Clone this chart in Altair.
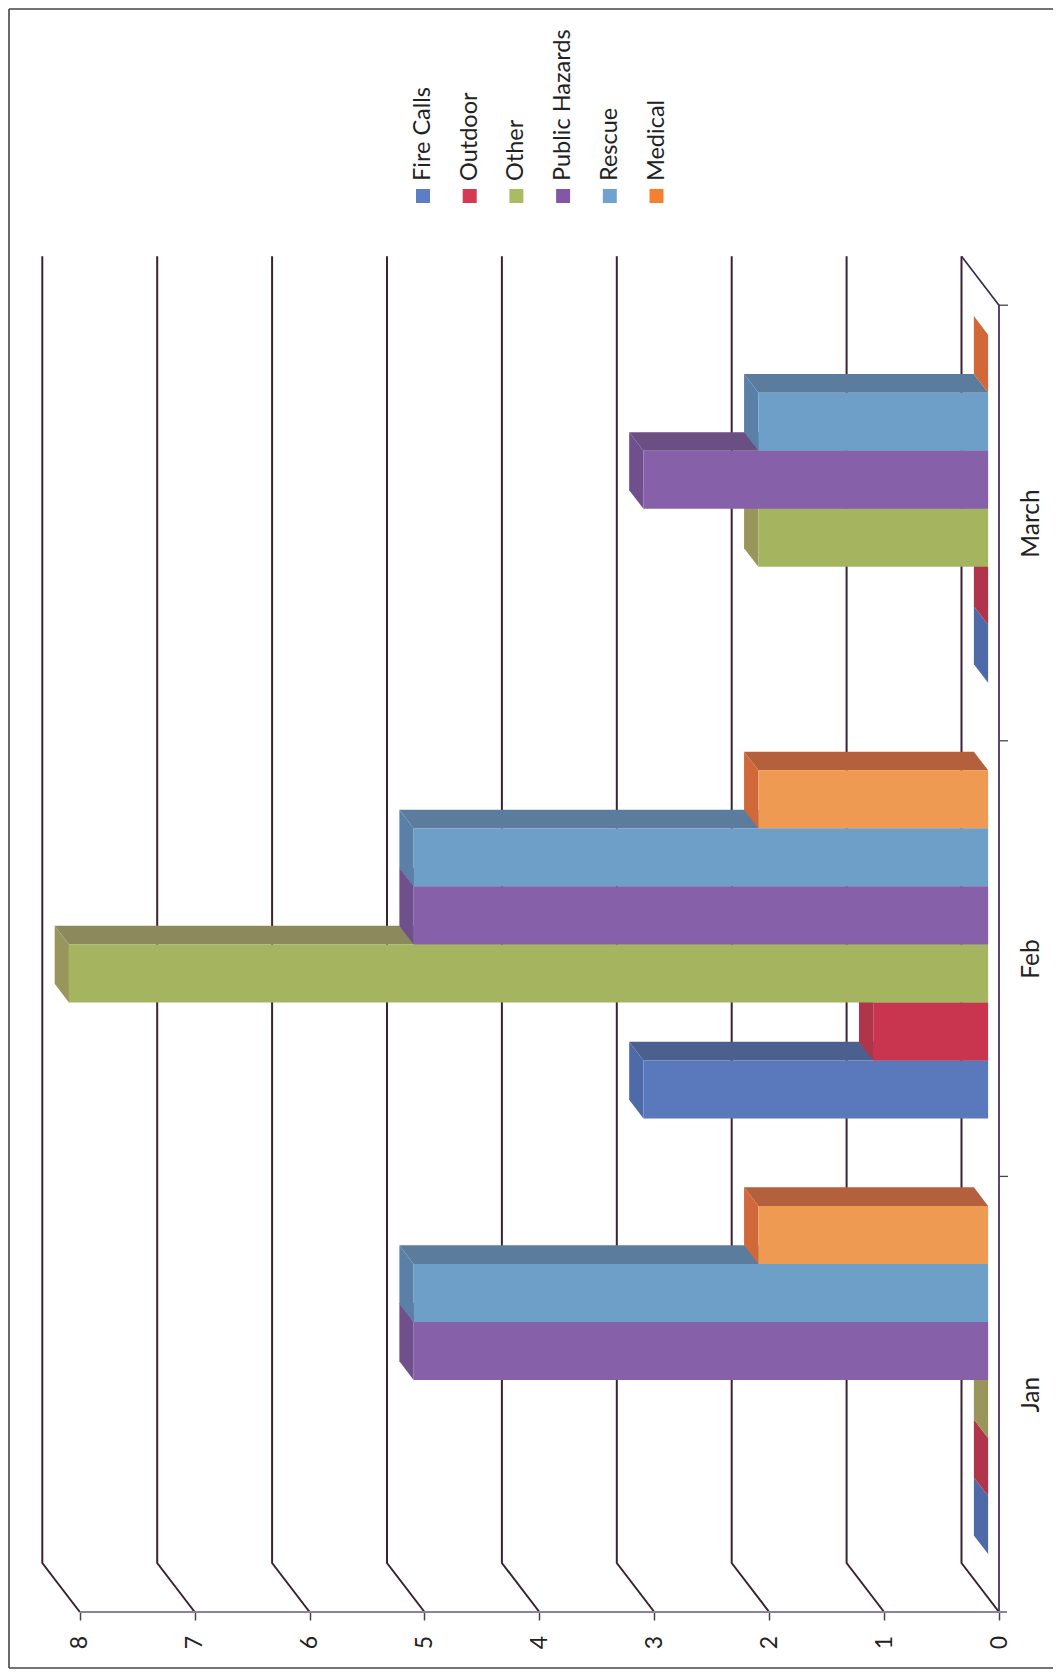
import json
import altair as alt
import pandas as pd

# ---------- values ----------
categories = ["Jan", "Feb", "March"]
series_names = ["Fire Calls", "Outdoor", "Other", "Public Hazards", "Rescue", "Medical"]
fire_calls = [0, 3, 0]
outdoor = [0, 1, 0]
other = [0, 8, 2]
public_hazards = [5, 5, 3]
rescue = [5, 5, 2]
medical = [2, 2, 0]
series_values = [fire_calls, outdoor, other, public_hazards, rescue, medical]
value_ticks = [0, 1, 2, 3, 4, 5, 6, 7, 8]

front_colors = ["#5A78BC", "#C9344F", "#A5B45E", "#8661A9", "#6E9FC8", "#EE9A52"]
top_colors = ["#4C6090", "#A8323F", "#8C8A5C", "#6B4E82", "#5B7C9C", "#B5603C"]
end_colors = ["#4F6AA8", "#B0354A", "#99965C", "#6F4F8C", "#5A80A8", "#D0683A"]
legend_colors = ["#5B7FC4", "#D43A52", "#A9BC62", "#8257A8", "#6FA3CF", "#F48030"]

GRID = "#3B2233"
AXIS = "#8D7F9E"

# ---------- oblique depth: how far one full floor depth moves along each scale ----------
K_V = 0.3264     # value units per unit of depth
K_C = 0.1125     # category units per unit of depth
BAR_NEAR, BAR_FAR = 0.29, 0.67
SLOT = 0.1332
GAP = (1 - 6 * SLOT) / 2


def pv(v, d):
    return v + K_V * d


def pc(c, d):
    return c + K_C * d


# ---------- plot area and scales ----------
W, H = 1044, 1659
ORIGIN_X, ORIGIN_Y = 9, 9
ZERO_X, PX_PER_V = 999.0, 114.9
ZERO_Y, PX_PER_C = 1612.0, 435.6


def x_to_v(px):
    return (ZERO_X - px) / PX_PER_V


def y_to_c(py):
    return (ZERO_Y - py) / PX_PER_C


sx = alt.Scale(domain=[x_to_v(ORIGIN_X), x_to_v(ORIGIN_X + W)], range=[0, W], nice=False, zero=False)
sy = alt.Scale(domain=[y_to_c(ORIGIN_Y + H), y_to_c(ORIGIN_Y)], range=[H, 0], nice=False, zero=False)

x_axis = alt.Axis(
    values=value_ticks, title=None, grid=False, domain=False, offset=-(ORIGIN_Y + H - ZERO_Y),
    tickSize=8, tickColor="#4A4050", tickWidth=1.5, labelAngle=270, labelAlign="center",
    labelBaseline="middle", labelPadding=22, labelFont="Lato", labelFontSize=23, labelColor="#222222",
    format="d", labelOverlap=False, labelFlush=False,
)
y_axis = alt.Axis(
    values=[0.5, 1.5, 2.5], title=None, grid=False, domain=False, ticks=False, orient="right",
    offset=-(ORIGIN_X + W - 1031), labelPadding=0, labelAngle=270, labelAlign="center",
    labelBaseline="middle", labelFont="Lato", labelFontSize=24.5, labelColor="#222222",
    labelExpr=json.dumps(categories) + "[floor(datum.value)]", labelOverlap=False, labelFlush=False,
)
AX_X = dict(scale=sx, axis=x_axis)
AX_Y = dict(scale=sy, axis=y_axis)

layers = []

# ---------- outer frame ----------
for enc in (
    dict(x=alt.value(0), y=alt.value(0), y2=alt.value(H)),
    dict(y=alt.value(0), x=alt.value(0), x2=alt.value(W)),
    dict(y=alt.value(H), x=alt.value(0), x2=alt.value(W)),
):
    layers.append(alt.Chart(pd.DataFrame({"a": [0]})).mark_rule(color="#444444", strokeWidth=1.6).encode(**enc))

# ---------- gridlines ----------
grid_rows = []
for v in value_ticks:
    for o, (c, d) in enumerate([(3, 1), (0, 1), (0, 0)]):
        grid_rows.append({"v": pv(v, d), "c": pc(c, d), "g": f"v{v}", "o": o})
layers.append(
    alt.Chart(pd.DataFrame(grid_rows)).mark_line(color=GRID, strokeWidth=2).encode(
        x=alt.X("v:Q", **AX_X), y=alt.Y("c:Q", **AX_Y), detail="g:N", order="o:Q"
    )
)

# ---------- floor: right edge, slant at far end, category ticks, value axis line ----------
floor_rows = [{"v": pv(0, d), "c": pc(c, d), "g": "edge", "o": o} for o, (c, d) in enumerate([(3, 1), (3, 0), (0, 0)])]
layers.append(
    alt.Chart(pd.DataFrame(floor_rows)).mark_line(color="#3B2A52", strokeWidth=1.7).encode(
        x=alt.X("v:Q", **AX_X), y=alt.Y("c:Q", **AX_Y), detail="g:N", order="o:Q"
    )
)
axis_line = pd.DataFrame({"v0": [x_to_v(1007)], "v1": [8], "c": [0]})
layers.append(
    alt.Chart(axis_line).mark_rule(color=AXIS, strokeWidth=1.8).encode(
        x=alt.X("v0:Q", **AX_X), x2="v1:Q", y=alt.Y("c:Q", **AX_Y)
    )
)
cat_ticks = pd.DataFrame({"v0": [0, 0, 0], "v1": [x_to_v(1008)] * 3, "c": [1, 2, 3]})
layers.append(
    alt.Chart(cat_ticks).mark_rule(color="#4A4050", strokeWidth=1.3).encode(
        x=alt.X("v0:Q", **AX_X), x2="v1:Q", y=alt.Y("c:Q", **AX_Y)
    )
)

# ---------- bars, lowest first so upper bars cover the top faces below them ----------
for s, vals in enumerate(series_values):
    top_rows, end_rows, front_rows = [], [], []
    for ci, val in enumerate(vals):
        lo = ci + GAP + s * SLOT
        hi = lo + SLOT
        for d in (BAR_NEAR, BAR_FAR):
            top_rows.append({"cat": ci, "c": pc(hi, d), "a": pv(0, d), "b": pv(val, d)})
            end_rows.append({"cat": ci, "v": pv(val, d), "a": pc(lo, d), "b": pc(hi, d)})
        front_rows.append({"a": pv(0, BAR_NEAR), "b": pv(val, BAR_NEAR), "lo": pc(lo, BAR_NEAR), "hi": pc(hi, BAR_NEAR)})
    layers.append(
        alt.Chart(pd.DataFrame(top_rows)).mark_area(orient="horizontal", color=top_colors[s], opacity=1).encode(
            y=alt.Y("c:Q", **AX_Y), x=alt.X("a:Q", stack=None, **AX_X), x2="b:Q", detail="cat:N"
        )
    )
    layers.append(
        alt.Chart(pd.DataFrame(end_rows)).mark_area(orient="vertical", color=end_colors[s], opacity=1).encode(
            x=alt.X("v:Q", **AX_X), y=alt.Y("a:Q", stack=None, **AX_Y), y2="b:Q", detail="cat:N"
        )
    )
    layers.append(
        alt.Chart(pd.DataFrame(front_rows)).mark_rect(color=front_colors[s], opacity=1).encode(
            x=alt.X("a:Q", **AX_X), x2="b:Q", y=alt.Y("lo:Q", **AX_Y), y2="hi:Q"
        )
    )

# ---------- legend, laid out rotated like the chart ----------
legend = pd.DataFrame({
    "name": series_names,
    "color": legend_colors,
    "v": [x_to_v(423 + 46.7 * i) for i in range(len(series_names))],
    "c_sym": [y_to_c(196)] * len(series_names),
    "c_txt": [y_to_c(181)] * len(series_names),
})
layers.append(
    alt.Chart(legend).mark_square(size=196, opacity=1).encode(
        x=alt.X("v:Q", **AX_X), y=alt.Y("c_sym:Q", **AX_Y),
        color=alt.Color("color:N", scale=None, legend=None),
    )
)
layers.append(
    alt.Chart(legend).mark_text(angle=270, align="left", baseline="middle", font="Lato", fontSize=23.5, color="#222222").encode(
        x=alt.X("v:Q", **AX_X), y=alt.Y("c_txt:Q", **AX_Y), text="name:N"
    )
)

chart = (
    alt.layer(*layers)
    .properties(width=W, height=H, padding=1, background="white",
                autosize=alt.AutoSizeParams(type="none"))
    .configure_view(stroke=None)
)
chart.save("out.html", embed_options={"renderer": "svg", "actions": False})
